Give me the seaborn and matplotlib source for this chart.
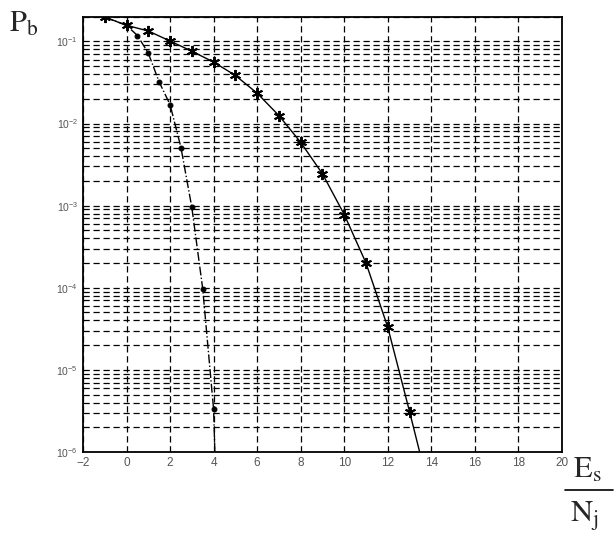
import numpy as np
import pandas as pd
import matplotlib
matplotlib.use('Agg')
import matplotlib.pyplot as plt
import seaborn as sns
from matplotlib.lines import Line2D
from matplotlib.ticker import LogLocator, MultipleLocator

## values
es_nj_plain = [-1, 0, 1, 2, 3, 4, 5, 6, 7, 8, 9, 10, 11, 12, 13, 14]
pb_plain = [0.198, 0.157, 0.134, 0.101, 0.076, 0.056, 0.0385, 0.0234, 0.0125,
            0.0059, 0.00244, 7.8e-4, 2.0e-4, 3.3e-5, 3.1e-6, 2.7e-7]

es_nj_coded = [-1, 0, 0.5, 1, 1.5, 2, 2.5, 3, 3.5, 4, 4.5]
pb_coded = [0.198, 0.157, 0.118, 0.072, 0.032, 0.017, 0.0051, 9.5e-4, 9.7e-5,
            3.3e-6, 1e-10]

x_ticks = list(range(-2, 21, 2))

df_plain = pd.DataFrame({'x': es_nj_plain, 'pb': pb_plain})
df_coded = pd.DataFrame({'x': es_nj_coded, 'pb': pb_coded})

sns.set_style('white')
plt.rcParams['font.family'] = ['Liberation Sans', 'DejaVu Sans']
plt.rcParams['mathtext.fontset'] = 'custom'
plt.rcParams['mathtext.rm'] = 'Liberation Sans'

fig = plt.figure(figsize=(6.16, 5.35), dpi=100)
ax = fig.add_axes([0.1347, 0.1551, 0.9123 - 0.1347, 0.9688 - 0.1551])
ax.set_yscale('log')

# asterisk marker like matlab '*'
sns.lineplot(data=df_plain, x='x', y='pb', ax=ax, color='black', lw=1.0,
             marker=(6, 2, 0), markersize=8, markeredgewidth=1.4,
             markeredgecolor='black', markerfacecolor='black', estimator=None)
sns.lineplot(data=df_coded, x='x', y='pb', ax=ax, color='black', lw=1.0,
             linestyle='-.', marker='o', markersize=3.5,
             markeredgecolor='black', markerfacecolor='black', estimator=None)

ax.set_xlim(-2, 20)
ax.set_ylim(1e-6, 0.2)
ax.xaxis.set_major_locator(MultipleLocator(2))
ax.set_xticks(x_ticks)
ax.yaxis.set_major_locator(LogLocator(base=10, numticks=10))
ax.yaxis.set_minor_locator(LogLocator(base=10, subs=np.arange(2, 10), numticks=20))

ax.grid(which='major', axis='both', color='black', linestyle=(0, (5, 3)), lw=0.9)
ax.grid(which='minor', axis='y', color='black', linestyle=(0, (5, 3)), lw=0.9)

ax.tick_params(which='both', direction='in', colors='black', labelcolor='#555555',
               top=False, right=False)
ax.tick_params(axis='x', labelsize=8.5)
ax.tick_params(axis='y', labelsize=7.5)
ax.tick_params(which='major', length=5)
ax.tick_params(which='minor', length=3, left=True)
ax.set_xlabel('')
ax.set_ylabel('')
for s in ax.spines.values():
    s.set_color('black')
    s.set_linewidth(1.3)

# axis titles drawn like the scanned figure
fig.text(0.015, 0.955, r'$\mathrm{P_b}$', fontsize=22,
         math_fontfamily='stix', ha='left', va='center')
fig.text(0.93, 0.121, r'$\mathrm{E_s}$', fontsize=22, math_fontfamily='stix',
         ha='left', va='center')
fig.text(0.925, 0.035, r'$\mathrm{N_j}$', fontsize=22, math_fontfamily='stix',
         ha='left', va='center')
fig.add_artist(Line2D([0.918, 0.995], [0.084, 0.084], color='black', lw=1.2,
                      transform=fig.transFigure))

fig.savefig('out.png', dpi=100)
